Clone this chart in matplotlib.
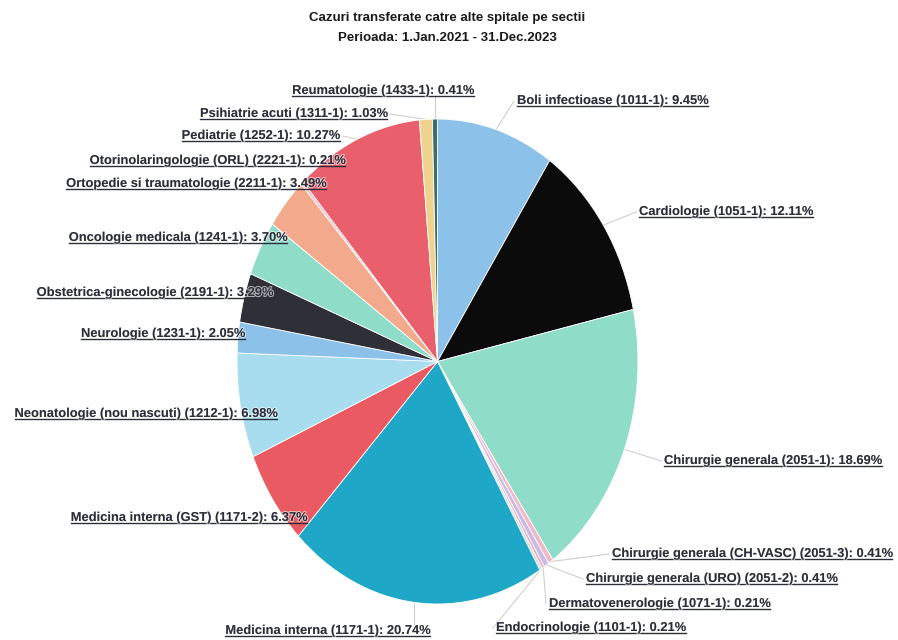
import matplotlib
matplotlib.use("Agg")
import matplotlib.pyplot as plt
from matplotlib.lines import Line2D
from matplotlib.transforms import IdentityTransform
import matplotlib.patheffects as pe
import numpy as np

# ---- data -------------------------------------------------------------
sections = [
    "Boli infectioase", "Cardiologie", "Chirurgie generala",
    "Chirurgie generala (CH-VASC)", "Chirurgie generala (URO)",
    "Dermatovenerologie", "Endocrinologie", "Medicina interna",
    "Medicina interna (GST)", "Neonatologie (nou nascuti)", "Neurologie",
    "Obstetrica-ginecologie", "Oncologie medicala",
    "Ortopedie si traumatologie", "Otorinolaringologie (ORL)", "Pediatrie",
    "Psihiatrie acuti", "Reumatologie",
]
codes = [
    "1011-1", "1051-1", "2051-1", "2051-3", "2051-2", "1071-1", "1101-1",
    "1171-1", "1171-2", "1212-1", "1231-1", "2191-1", "1241-1", "2211-1",
    "2221-1", "1252-1", "1311-1", "1433-1",
]
shares = [
    9.45, 12.11, 18.69, 0.41, 0.41, 0.21, 0.21, 20.74, 6.37, 6.98, 2.05,
    3.29, 3.70, 3.49, 0.21, 10.27, 1.03, 0.41,
]

title_lines = ["Cazuri transferate catre alte spitale pe sectii",
               "Perioada: 1.Jan.2021 - 31.Dec.2023"]

# ---- style ------------------------------------------------------------
colors = [
    "#8cc2ea", "#0b0b0b", "#8fdcc9", "#f2b8c6", "#c9b9e3", "#e7a9b9",
    "#d9d9d9", "#1fa7c7", "#e95a62", "#a8dcef", "#8cc2ea", "#2e2f37",
    "#8fdcc9", "#f3a98c", "#f0c0c8", "#e9606c", "#efd28e", "#3d6e6a",
]

W, H = 898, 640
# label placement in pixels: x, baseline y from top, alignment, leader style
label_layout = [
    (517, 104, "left", "d"), (639, 215, "left", "d"), (664, 464, "left", "d"),
    (612, 557, "left", "d"), (586, 582, "left", "d"), (549, 607, "left", "d"),
    (496, 631, "left", "d"), (430, 634, "right", "v"), (307, 521, "right", "d"),
    (277, 417, "right", "d"), (245, 337, "right", "d"), (273, 296, "right", "d"),
    (287, 241, "right", "d"), (326, 187, "right", "d"), (345, 164, "right", "d"),
    (340, 139, "right", "d"), (387, 117, "right", "d"), (474, 94, "right", "v"),
]

label_color = "#2c2f3a"
label_font = dict(family=["Liberation Sans Narrow", "Liberation Sans", "DejaVu Sans"],
                  fontsize=9.3, fontweight="bold", color=label_color)

fig = plt.figure(figsize=(W / 100, H / 100), dpi=100)
fig.patch.set_facecolor("white")

# pie box (slightly taller than wide)
px0, py0, px1, py1 = 237, 119, 638, 604
ax = fig.add_axes([px0 / W, 1 - py1 / H, (px1 - px0) / W, (py1 - py0) / H])
wedges, _ = ax.pie(shares, colors=colors, startangle=90, counterclock=False,
                   wedgeprops=dict(edgecolor="white", linewidth=0.6))
ax.set_aspect("auto")
ax.set_xlim(-1, 1)
ax.set_ylim(-1, 1)
for w in wedges:
    w.set_clip_on(False)

for i, line in enumerate(title_lines):
    fig.text(447 / W, 1 - (21 + 20 * i) / H, line, ha="center", va="baseline",
             fontsize=9.5, fontweight="bold", color="#1a1a1a",
             family=["Liberation Sans", "DejaVu Sans"])

texts = []
for name, code, pct, (lx, ly, ha, _) in zip(sections, codes, shares, label_layout):
    t = fig.text(lx / W, 1 - ly / H, f"{name} ({code}): {pct:.2f}%",
                 ha=ha, va="baseline", zorder=5, **label_font)
    t.set_path_effects([pe.withStroke(linewidth=1.5, foreground=(1, 1, 1, 0.6))])
    texts.append(t)

fig.canvas.draw()
renderer = fig.canvas.get_renderer()

# leader lines from wedge rims to the labels
for w, t, (lx, ly, ha, style) in zip(wedges, texts, label_layout):
    mid = np.deg2rad((w.theta1 + w.theta2) / 2)
    sx, sy = ax.transData.transform((np.cos(mid), np.sin(mid)))
    bb = t.get_window_extent(renderer)
    base = t.get_transform().transform(t.get_position())[1]
    if style == "v":
        ex = sx
        ey = base + 10 if sy > base else base - 2
    else:
        ex = bb.x0 - 3 if ha == "left" else bb.x1 + 3
        ey = (bb.y0 + bb.y1) / 2
    fig.add_artist(Line2D([sx, ex], [sy, ey], transform=IdentityTransform(),
                          color="#cfcfcf", lw=0.8, zorder=0))

# underline every label
for t in texts:
    bb = t.get_window_extent(renderer)
    base = t.get_transform().transform(t.get_position())[1]
    fig.add_artist(Line2D([bb.x0, bb.x1], [base - 2, base - 2],
                          transform=IdentityTransform(), color=label_color,
                          lw=1.0, zorder=5))

fig.savefig("out.png", dpi=100)
